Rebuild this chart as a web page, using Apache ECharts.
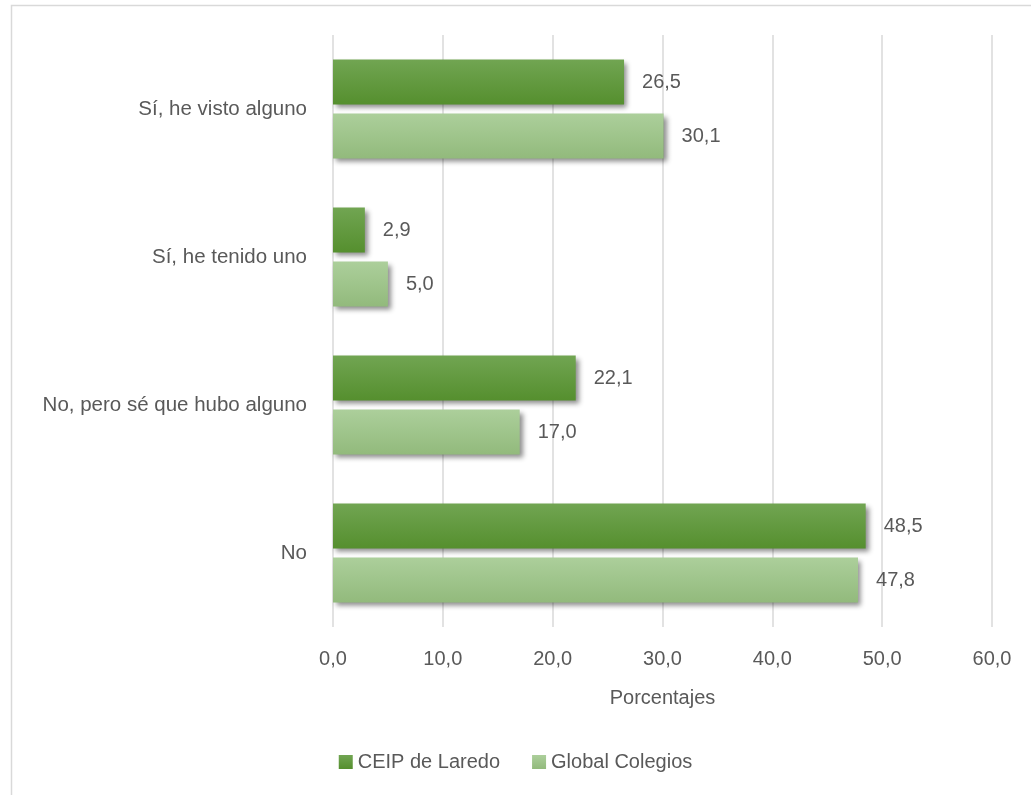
<!DOCTYPE html>
<html>
<head>
<meta charset="utf-8">
<script src="https://cdn.jsdelivr.net/npm/echarts@6/dist/echarts.min.js"></script>
<style>
  html, body { margin: 0; padding: 0; background: #fff; }
  #chart { width: 1031px; height: 795px; }
</style>
</head>
<body>
<div id="chart"></div>
<script>
// categorias (de arriba a abajo)
const categories = ['Sí, he visto alguno', 'Sí, he tenido uno', 'No, pero sé que hubo alguno', 'No']
const seriesNames = ['CEIP de Laredo', 'Global Colegios']
const laredo = [26.5, 2.9, 22.1, 48.5]
const global = [30.1, 5.0, 17.0, 47.8]
const axisMin = 0
const axisMax = 60
const axisStep = 10

const fmt = v => Number(v).toFixed(1).replace('.', ',')
const textColor = '#595959'
const fontFamily = 'Liberation Sans, Arial, sans-serif'

const chart = echarts.init(document.getElementById('chart'))

function barStyle(top, bottom) {
  return {
    color: new echarts.graphic.LinearGradient(0, 0, 0, 1, [
      { offset: 0, color: top },
      { offset: 1, color: bottom }
    ]),
    shadowColor: 'rgba(0,0,0,0.45)',
    shadowBlur: 5,
    shadowOffsetX: 3,
    shadowOffsetY: 3
  }
}

const option = {
  backgroundColor: '#fff',
  textStyle: { fontFamily: fontFamily, color: textColor },
  graphic: [{
    type: 'rect',
    left: 9,
    top: 3,
    shape: { width: 1100, height: 900 },
    style: { fill: 'none', stroke: '#d9d9d9', lineWidth: 1.5 },
    silent: true,
    z: -1
  }],
  grid: {
    left: 333,
    right: 39,
    top: 35,
    bottom: 168
  },
  legend: {
    data: seriesNames,
    bottom: 18,
    left: 'center',
    itemWidth: 14,
    itemHeight: 14,
    itemGap: 32,
    icon: 'rect',
    itemStyle: { shadowBlur: 0, shadowOffsetX: 0, shadowOffsetY: 0 },
    textStyle: { color: textColor, fontSize: 20, fontFamily: fontFamily }
  },
  xAxis: {
    type: 'value',
    min: axisMin,
    max: axisMax,
    interval: axisStep,
    name: 'Porcentajes',
    nameLocation: 'middle',
    nameGap: 61,
    nameTextStyle: { color: textColor, fontSize: 20, fontFamily: fontFamily },
    axisLine: { show: false },
    axisTick: { show: false },
    axisLabel: { color: textColor, fontSize: 20, margin: 22, formatter: fmt },
    splitLine: { lineStyle: { color: '#d9d9d9', width: 1.5 } }
  },
  yAxis: {
    type: 'category',
    data: categories,
    inverse: true,
    axisLine: { show: false },
    axisTick: { show: false },
    axisLabel: { color: textColor, fontSize: 20.5, margin: 26 }
  },
  series: [
    {
      name: seriesNames[0],
      type: 'bar',
      data: laredo,
      barWidth: 45,
      barGap: '20%',
      itemStyle: barStyle('#71a552', '#558f2e'),
      label: { show: true, position: 'right', distance: 18, color: textColor, fontSize: 20, formatter: p => fmt(p.value) }
    },
    {
      name: seriesNames[1],
      type: 'bar',
      data: global,
      barWidth: 45,
      itemStyle: barStyle('#accf9b', '#92ba7c'),
      label: { show: true, position: 'right', distance: 18, color: textColor, fontSize: 20, formatter: p => fmt(p.value) }
    }
  ]
}

chart.setOption(option)
</script>
</body>
</html>
